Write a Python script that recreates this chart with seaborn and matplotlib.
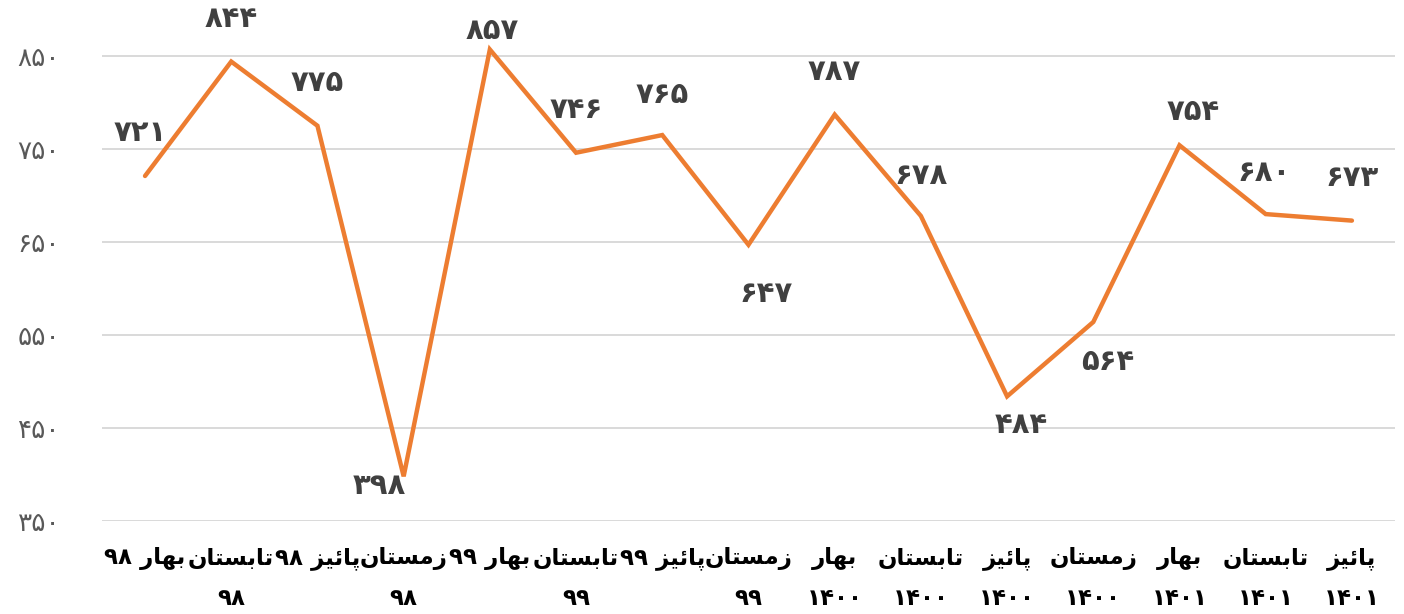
"""
Quarterly series 98-1401 as an orange line with Persian labels.
matplotlib does no Arabic shaping, so the labels are shaped by hand below.
"""
import numpy as np
import pandas as pd
import matplotlib
matplotlib.use("Agg")
import matplotlib.pyplot as plt
import seaborn as sns

# Data
quarters = [
    "بهار ۹۸", "تابستان\n۹۸", "پائیز ۹۸", "زمستان\n۹۸",
    "بهار ۹۹", "تابستان\n۹۹", "پائیز ۹۹", "زمستان\n۹۹",
    "بهار\n۱۴۰۰", "تابستان\n۱۴۰۰", "پائیز\n۱۴۰۰", "زمستان\n۱۴۰۰",
    "بهار\n۱۴۰۱", "تابستان\n۱۴۰۱", "پائیز\n۱۴۰۱",
]
values = [721, 844, 775, 398, 857, 746, 765, 647, 787, 678, 484, 564, 754, 680, 673]
y_ticks = [350, 450, 550, 650, 750, 850]

# label placement (pixels from the point), as in the source chart
label_offsets = [(-5, 43), (0, 43), (0, 43), (-24, -10), (2, 19), (0, 43), (0, 40),
                 (18, -49), (0, 43), (0, 40), (14, -29), (14, -40), (14, 33),
                 (-2, 41), (0, 43)]

LINE = "#ED7D31"
GRID = "#D9D9D9"

# Presentation forms: isolated, final, initial, medial (right-joining letters have two)
FORMS = {
    "ا": ("\uFE8D", "\uFE8E"),
    "ر": ("\uFEAD", "\uFEAE"),
    "ز": ("\uFEAF", "\uFEB0"),
    "ب": ("\uFE8F", "\uFE90", "\uFE91", "\uFE92"),
    "پ": ("\uFB56", "\uFB57", "\uFB58", "\uFB59"),
    "ت": ("\uFE95", "\uFE96", "\uFE97", "\uFE98"),
    "س": ("\uFEB1", "\uFEB2", "\uFEB3", "\uFEB4"),
    "م": ("\uFEE1", "\uFEE2", "\uFEE3", "\uFEE4"),
    "ن": ("\uFEE5", "\uFEE6", "\uFEE7", "\uFEE8"),
    "ه": ("\uFEE9", "\uFEEA", "\uFEEB", "\uFEEC"),
    "ئ": ("\uFE89", "\uFE8A", "\uFE8B", "\uFE8C"),
    "ی": ("\uFBFC", "\uFBFD", "\uFBFE", "\uFBFF"),
}


def shape_word(word):
    if not any(c in FORMS for c in word):
        return word  # digits stay left to right
    out = []
    for i, c in enumerate(word):
        forms = FORMS[c]
        prev_joins = i > 0 and len(FORMS[word[i - 1]]) == 4
        next_joins = len(forms) == 4 and i < len(word) - 1
        if prev_joins and next_joins:
            out.append(forms[3])
        elif prev_joins:
            out.append(forms[1])
        elif next_joins:
            out.append(forms[2])
        else:
            out.append(forms[0])
    return "".join(reversed(out))


def fa(text):
    lines = []
    for line in text.split("\n"):
        words = [shape_word(w) for w in line.split(" ")]
        lines.append(" ".join(reversed(words)))
    return "\n".join(lines)


def fa_num(n):
    return "".join(chr(0x06F0 + int(d)) for d in str(n))


def plot_chart():
    df = pd.DataFrame({"pos": np.arange(len(values)), "value": values})

    sns.set_theme(style="white")
    plt.rcParams["font.family"] = ["DejaVu Sans"]

    fig = plt.figure(figsize=(14.04, 6.14), dpi=100)
    ax = fig.add_axes([0.0726, 0.1515, 0.921, 0.833])

    sns.lineplot(data=df, x="pos", y="value", color=LINE, linewidth=3.2,
                 solid_capstyle="round", solid_joinstyle="miter", ax=ax)

    for (x, y, off) in zip(df["pos"], df["value"], label_offsets):
        ax.annotate(fa_num(y), (x, y), xytext=off, textcoords="offset pixels",
                    ha="center", va="center", fontsize=21, fontweight="bold",
                    color="#404040")

    ax.set_xlim(-0.5, len(values) - 0.5)
    ax.set_ylim(350, 900)
    ax.set_yticks(y_ticks)
    ax.set_yticklabels([fa_num(t) for t in y_ticks], fontsize=19, color="#595959")
    ax.set_xticks(df["pos"])
    ax.set_xticklabels([fa(q) for q in quarters], fontsize=16.5, fontweight="bold",
                       color="black", linespacing=1.95)
    ax.tick_params(axis="y", length=0, pad=30)
    ax.tick_params(axis="x", length=0, pad=19)
    ax.grid(axis="y", color=GRID, linewidth=1.4)
    ax.set_axisbelow(True)
    for side in ["top", "right", "left", "bottom"]:
        ax.spines[side].set_visible(False)
    ax.set_xlabel("")
    ax.set_ylabel("")

    fig.savefig("out.png", dpi=100)
    plt.close(fig)


if __name__ == "__main__":
    plot_chart()
